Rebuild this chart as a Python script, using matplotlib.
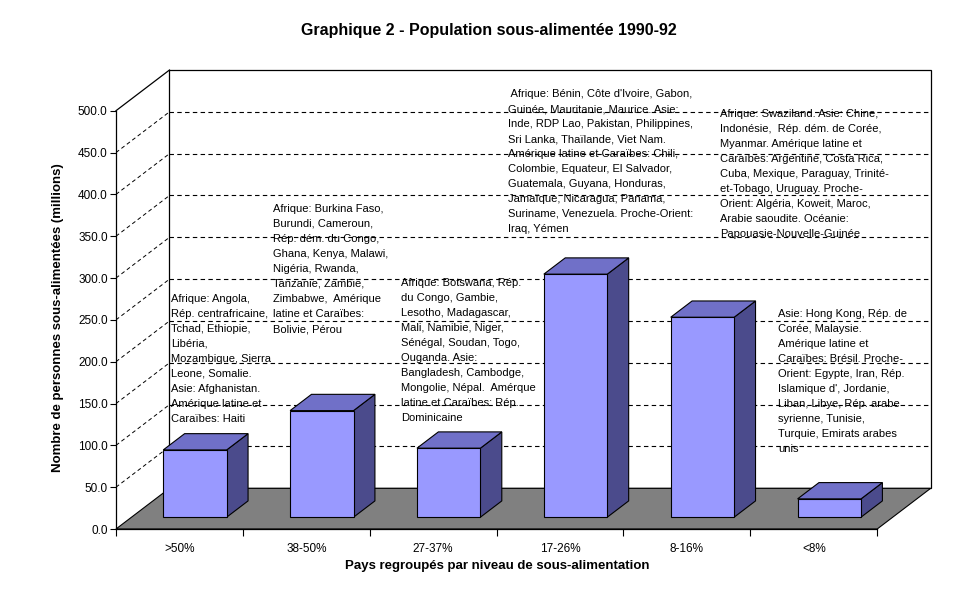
import numpy as np
import matplotlib
matplotlib.use("Agg")
import matplotlib.pyplot as plt
from matplotlib.patches import Polygon

plt.rcParams['font.family'] = ['Liberation Sans', 'DejaVu Sans']

# données
categories = [">50%", "38-50%", "27-37%", "17-26%", "8-16%", "<8%"]
population = [80.4, 127.4, 82.5, 290.5, 239.0, 21.9]
yticks = np.arange(0, 501, 50)

notes = [
    ["Afrique: Angola,", "Rép. centrafricaine,", "Tchad, Ethiopie,", "Libéria,",
     "Mozambique, Sierra", "Leone, Somalie.", "Asie: Afghanistan.",
     "Amérique latine et", "Caraïbes: Haiti"],
    ["Afrique: Burkina Faso,", "Burundi, Cameroun,", "Rép. dém. du Congo,",
     "Ghana, Kenya, Malawi,", "Nigéria, Rwanda,", "Tanzanie, Zambie,",
     "Zimbabwe,  Amérique", "latine et Caraïbes:", "Bolivie, Pérou"],
    ["Afrique: Botswana, Rép.", "du Congo, Gambie,", "Lesotho, Madagascar,",
     "Mali, Namibie, Niger,", "Sénégal, Soudan, Togo,", "Ouganda. Asie:",
     "Bangladesh, Cambodge,", "Mongolie, Népal.  Amérque",
     "latine et Caraïbes: Rép.", "Dominicaine"],
    [" Afrique: Bénin, Côte d'Ivoire, Gabon,", "Guinée, Mauritanie, Maurice. Asie:",
     "Inde, RDP Lao, Pakistan, Philippines,", "Sri Lanka, Thaïlande, Viet Nam.",
     "Amérique latine et Caraïbes: Chili,", "Colombie, Equateur, El Salvador,",
     "Guatemala, Guyana, Honduras,", "Jamaïque, Nicaragua, Panama,",
     "Suriname, Venezuela. Proche-Orient:", "Iraq, Yémen"],
    ["Afrique: Swaziland. Asie: Chine,", "Indonésie,  Rép. dém. de Corée,",
     "Myanmar. Amérique latine et", "Caraïbes: Argentine, Costa Rica,",
     "Cuba, Mexique, Paraguay, Trinité-", "et-Tobago, Uruguay. Proche-",
     "Orient: Algéria, Koweit, Maroc,", "Arabie saoudite. Océanie:",
     "Papouasie-Nouvelle-Guinée"],
    ["Asie: Hong Kong, Rép. de", "Corée, Malaysie.", "Amérique latine et",
     "Caraïbes: Brésil. Proche-", "Orient: Egypte, Iran, Rép.",
     "Islamique d', Jordanie,", "Liban, Libye, Rép. arabe",
     "syrienne, Tunisie,", "Turquie, Emirats arabes", "unis"],
]
# coin gauche / centre de la 1re ligne (pixels)
note_pos = [(171, 298), (273, 208), (401, 282), (508, 93), (720, 113), (778, 313)]

W, H = 977, 601
fig = plt.figure(figsize=(W / 100, H / 100), dpi=100)
ax = fig.add_axes([116 / W, 1 - 529 / H, (930.7 - 116) / W, (529 - 70) / H])

n = len(categories)
DX, DY = 0.4216, 48.65  # décalage de profondeur
ax.set_xlim(0, n + DX)
ax.set_ylim(0, 500 + DY)
ax.patch.set_visible(False)

# murs et sol
ax.add_patch(Polygon([(0, 0), (0, 500), (DX, 500 + DY), (DX, DY)], closed=True,
                     facecolor='white', edgecolor='none', zorder=0))
ax.add_patch(Polygon([(DX, DY), (n + DX, DY), (n + DX, 500 + DY), (DX, 500 + DY)],
                     closed=True, facecolor='white', edgecolor='black', lw=0.9,
                     clip_on=False, zorder=0))
ax.plot([0, DX], [500, 500 + DY], color='black', lw=0.9, clip_on=False, zorder=1)
for v in yticks[1:-1]:
    ax.plot([DX, n + DX], [v + DY, v + DY], color='black', lw=0.8,
            ls=(0, (4, 3)), zorder=1)
    ax.plot([0, DX], [v, v + DY], color='black', lw=0.7, ls=(0, (4, 3)), zorder=1)
ax.add_patch(Polygon([(0, 0), (n, 0), (n + DX, DY), (DX, DY)], closed=True,
                     facecolor='#808080', edgecolor='black', lw=0.8,
                     clip_on=False, zorder=2))

# barres 3D
d0, d1 = 0.29, 0.69
for i, v in enumerate(population):
    x0, x1 = i + 0.25, i + 0.75
    a0, b0 = DX * d0, DY * d0
    a1, b1 = DX * d1, DY * d1
    front = [(x0 + a0, b0), (x1 + a0, b0), (x1 + a0, v + b0), (x0 + a0, v + b0)]
    top = [(x0 + a0, v + b0), (x1 + a0, v + b0), (x1 + a1, v + b1), (x0 + a1, v + b1)]
    side = [(x1 + a0, b0), (x1 + a1, b1), (x1 + a1, v + b1), (x1 + a0, v + b0)]
    for pts, col in [(side, '#4B4B8C'), (top, '#7070C8'), (front, '#9999FF')]:
        ax.add_patch(Polygon(pts, closed=True, facecolor=col, edgecolor='black',
                             lw=0.8, zorder=3))

# axes
for s in ['top', 'right']:
    ax.spines[s].set_visible(False)
ax.spines['left'].set_bounds(0, 500)
ax.spines['bottom'].set_bounds(0, n)
ax.spines['left'].set_linewidth(0.9)
ax.spines['bottom'].set_linewidth(0.9)
ax.set_yticks(yticks)
ax.set_yticklabels([f"{v:.1f}" for v in yticks], fontsize=8.5)
ax.tick_params(axis='y', direction='out', length=4, width=0.8, pad=2)
ax.set_xticks(np.arange(n + 1))
ax.set_xticklabels([])
ax.tick_params(axis='x', which='major', direction='out', length=5, width=0.8)
ax.set_xticks(np.arange(n) + 0.5, minor=True)
ax.set_xticklabels(categories, minor=True, fontsize=8.5)
ax.tick_params(axis='x', which='minor', length=0, pad=10)

# annotations
for lines, (px, py) in zip(notes, note_pos):
    for j, line in enumerate(lines):
        fig.text(px / W, 1 - (py + 15 * j + 4) / H, line, fontsize=8.0,
                 ha='left', va='baseline')

fig.text(489 / W, 1 - 31 / H, "Graphique 2 - Population sous-alimentée 1990-92",
         fontsize=11.5, fontweight='bold', ha='center', va='center')
fig.text(497 / W, 1 - 566 / H, "Pays regroupés par niveau de sous-alimentation",
         fontsize=9.5, fontweight='bold', ha='center', va='center')
fig.text(58 / W, 1 - 318 / H, "Nombre de personnes sous-alimentées (millions)",
         fontsize=9.5, fontweight='bold', ha='center', va='center', rotation=90)

fig.savefig("out.png", dpi=100)
